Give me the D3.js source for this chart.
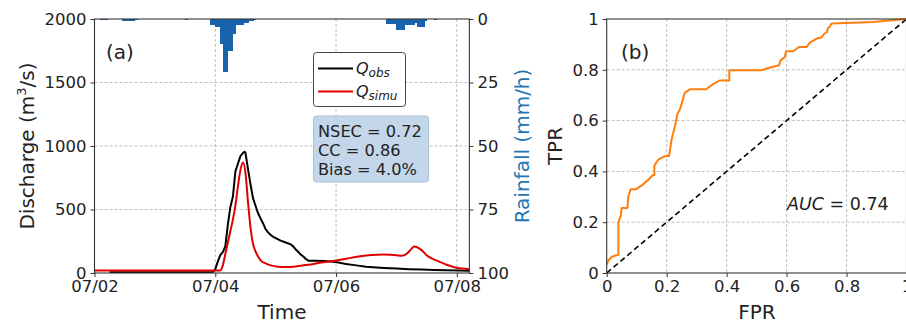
<!DOCTYPE html>
<html><head><meta charset="utf-8">
<script src="https://cdn.jsdelivr.net/npm/d3@7"></script>
<style>body{margin:0;background:#fff} svg{display:block;font-family:"DejaVu Sans",sans-serif}</style>
</head><body><svg id="c" width="906" height="325"></svg>
<script>
// ---------- data ----------
const timeTickHours = [0, 48, 96, 144];
const timeTickLabels = ["07/02", "07/04", "07/06", "07/08"];
const dischargeTicks = [0, 500, 1000, 1500, 2000];
const rainTicks = [0, 25, 50, 75, 100];

const rainHours = [2,3,4, 11,12,13,14,15,16, 36,
  46,47,48,49,50,51,52,53,54,55,56,57,58,59,60,61,62,63,
  116,117,118,119,120,121,122,123,124,125,126,127,128,129,130,131,135];
const rainValues = [0.4,0.4,0.3, 0.6,0.8,0.8,0.8,0.6,0.4, 0.5,
  2.5,2.5,3.2,3.2,10,21,21,12.5,12.5,6,2.5,2.5,2.5,1.5,1.5,0.7,0.7,0.5,
  1.8,2,2,2,4.2,4.2,4.2,2.2,2.2,2.2,2.2,1.5,3.2,3.2,3.2,0.8,0.4];

const obsHours = [6,47,48,49,50,51,52,53,54,55,56,57,58,59,59.6,60,61,62,63,64,65,66,67,68,69,70,71,72,73,74,76,78,79,80,81,82,83,84,85,88,91,94,97,100,104,108,115,120,125,130,135,140,145,149];
const obsValues = [6,6,30,90,140,165,210,380,520,600,800,860,920,945,955,945,820,700,590,530,470,430,390,345,320,300,285,275,265,255,240,225,210,185,165,145,130,110,97,97,95,90,82,70,60,50,40,35,30,27,24,22,20,18];

const simHours = [0,50,51,52,53,54,55,56,57,58,59,60,61,62,63,64,65,66,68,70,73,76,80,85,90,95,100,105,110,115,120,122,124,126,127,128,130,132,134,137,140,143,146,149];
const simValues = [20,20,60,150,240,330,420,530,680,810,870,790,560,360,230,170,130,100,75,60,50,48,52,65,82,95,112,130,142,145,140,135,150,190,208,205,180,140,115,90,65,45,35,30];

const fprValues = [0,0.006,0.017,0.033,0.039,0.039,0.047,0.05,0.069,0.072,0.08,0.098,0.117,0.139,0.153,0.159,0.159,0.172,0.189,0.2,0.208,0.217,0.228,0.236,0.244,0.25,0.258,0.261,0.278,0.331,0.356,0.378,0.409,0.409,0.444,0.516,0.533,0.575,0.58,0.594,0.598,0.622,0.641,0.667,0.678,0.7,0.716,0.724,0.735,0.738,0.744,0.75,0.889,1];
const tprValues = [0.033,0.05,0.064,0.07,0.072,0.198,0.227,0.256,0.256,0.3,0.33,0.33,0.345,0.367,0.385,0.385,0.424,0.446,0.457,0.461,0.461,0.529,0.581,0.627,0.644,0.667,0.7,0.71,0.723,0.723,0.745,0.758,0.758,0.798,0.798,0.798,0.805,0.818,0.837,0.85,0.873,0.873,0.89,0.89,0.907,0.923,0.927,0.94,0.949,0.965,0.969,0.982,0.988,1];
const rocTicks = [0, 0.2, 0.4, 0.6, 0.8, 1];
const rocTickLabels = ["0", "0.2", "0.4", "0.6", "0.8", "1"];
const statLines = ["NSEC = 0.72", "CC = 0.86", "Bias = 4.0%"];
const aucValue = "0.74";

// ---------- setup ----------
const svg = d3.select("#c");
const TICK_FS = 16.5, LABEL_FS = 20;
const gridColor = "#b8b8b8", spineColor = "#333";

// Panel A scales
const xA = d3.scaleLinear().domain([0, 144]).range([94.5, 456.8]);
const xAend = 149;
const yQ = d3.scaleLinear().domain([0, 2000]).range([273, 19]);
const yR = d3.scaleLinear().domain([0, 100]).range([19, 273]);
const ax0 = xA(0), ax1 = xA(xAend);

function styleAxis(g){
  g.select(".domain").remove();
  g.selectAll(".tick line").attr("stroke", spineColor).attr("stroke-width", 1);
  g.selectAll(".tick text").attr("fill", "#222").attr("font-size", TICK_FS)
    .attr("font-family", '"DejaVu Sans",sans-serif');
}

const gA = svg.append("g");
// grid
gA.selectAll(".gy").data(dischargeTicks.slice(1, -1)).join("line")
  .attr("x1", ax0).attr("x2", ax1).attr("y1", d => yQ(d)).attr("y2", d => yQ(d))
  .attr("stroke", gridColor).attr("stroke-width", 0.9).attr("stroke-dasharray", "3,2");
gA.selectAll(".gx").data(timeTickHours.slice(1)).join("line")
  .attr("x1", d => xA(d)).attr("x2", d => xA(d)).attr("y1", 19).attr("y2", 273)
  .attr("stroke", gridColor).attr("stroke-width", 0.9).attr("stroke-dasharray", "3,2");

// rain bars
const rain = rainHours.map((h, i) => ({h, v: rainValues[i]}));
gA.selectAll(".rb").data(rain).join("rect")
  .attr("x", d => xA(d.h)).attr("width", d => xA(d.h + 1) - xA(d.h) + 0.6)
  .attr("y", yR(0)).attr("height", d => yR(d.v) - yR(0))
  .attr("fill", "#1764ad").attr("shape-rendering", "crispEdges");

// lines
svg.append("clipPath").attr("id", "clipA").append("rect")
  .attr("x", ax0).attr("y", 19).attr("width", ax1 - ax0).attr("height", 254);
const obs = obsHours.map((h, i) => [h, obsValues[i]]);
const sim = simHours.map((h, i) => [h, simValues[i]]);
const lineA = d3.line().x(d => xA(d[0])).y(d => yQ(d[1]));
gA.append("path").datum(obs).attr("d", lineA).attr("fill", "none")
  .attr("stroke", "#000").attr("stroke-width", 2).attr("stroke-linejoin", "round")
  .attr("clip-path", "url(#clipA)");
gA.append("path").datum(sim).attr("d", d3.line().curve(d3.curveMonotoneX).x(d => xA(d[0])).y(d => yQ(d[1])))
  .attr("fill", "none").attr("stroke", "#e00000").attr("stroke-width", 2)
  .attr("stroke-linejoin", "round").attr("clip-path", "url(#clipA)");

// frame
gA.append("rect").attr("x", ax0).attr("y", 19).attr("width", ax1 - ax0).attr("height", 254)
  .attr("fill", "none").attr("stroke", spineColor).attr("stroke-width", 1.1);

// axes
gA.append("g").attr("transform", `translate(${ax0},0)`)
  .call(d3.axisLeft(yQ).tickValues(dischargeTicks).tickFormat(d3.format("d")).tickSize(4).tickPadding(4)).call(styleAxis);
gA.append("g").attr("transform", `translate(${ax1},0)`)
  .call(d3.axisRight(yR).tickValues(rainTicks).tickFormat(d3.format("d")).tickSize(4).tickPadding(4)).call(styleAxis);
gA.append("g").attr("transform", `translate(0,273)`)
  .call(d3.axisBottom(xA).tickValues(timeTickHours).tickFormat((d, i) => timeTickLabels[i]).tickSize(4).tickPadding(3))
  .call(styleAxis);

// labels
gA.append("text").attr("x", 282).attr("y", 319).attr("text-anchor", "middle")
  .attr("font-size", LABEL_FS).attr("fill", "#222").text("Time");
gA.append("text").attr("transform", "translate(34,146) rotate(-90)").attr("text-anchor", "middle")
  .attr("font-size", LABEL_FS).attr("fill", "#222")
  .html('Discharge (m<tspan dy="-8" font-size="13">3</tspan><tspan dy="8">/s)</tspan>');
gA.append("text").attr("transform", "translate(529,146) rotate(-90)").attr("text-anchor", "middle")
  .attr("font-size", LABEL_FS).attr("fill", "#1f77b4").text("Rainfall (mm/h)");
gA.append("text").attr("x", 106).attr("y", 59).attr("font-size", LABEL_FS).attr("fill", "#222").text("(a)");

// legend
const lg = gA.append("g");
lg.append("rect").attr("x", 313.5).attr("y", 52.5).attr("width", 92).attr("height", 54).attr("rx", 3)
  .attr("fill", "#fff").attr("stroke", "#444").attr("stroke-width", 1);
[["#000", "obs", 68.5], ["#e00000", "simu", 91.5]].forEach(([c, sub, y]) => {
  lg.append("line").attr("x1", 318).attr("x2", 353).attr("y1", y).attr("y2", y)
    .attr("stroke", c).attr("stroke-width", 2);
  lg.append("text").attr("x", 356).attr("y", y + 5).attr("font-size", 16).attr("fill", "#222")
    .html(`<tspan font-style="italic">Q</tspan><tspan font-style="italic" font-size="12" dy="3.5">${sub}</tspan>`);
});

// stats box
const sb = gA.append("g");
sb.append("rect").attr("x", 313.5).attr("y", 116).attr("width", 115).attr("height", 66).attr("rx", 3)
  .attr("fill", "#c4d7ea").attr("stroke", "#a9c1d9").attr("stroke-width", 1);
sb.selectAll("text").data(statLines).join("text")
  .attr("x", 318).attr("y", (d, i) => 136.5 + i * 19.2).attr("font-size", 16.2).attr("fill", "#222").text(d => d);

// ---------- Panel B ----------
const xB = d3.scaleLinear().domain([0, 1]).range([606.7, 906.5]);
const yB = d3.scaleLinear().domain([0, 1]).range([273, 19]);
const gB = svg.append("g");
gB.selectAll(".gx").data(rocTicks.slice(1, -1)).join("line")
  .attr("x1", d => xB(d)).attr("x2", d => xB(d)).attr("y1", 19).attr("y2", 273)
  .attr("stroke", gridColor).attr("stroke-width", 0.9).attr("stroke-dasharray", "3,2");
gB.selectAll(".gy").data(rocTicks.slice(1, -1)).join("line")
  .attr("x1", xB(0)).attr("x2", xB(1)).attr("y1", d => yB(d)).attr("y2", d => yB(d))
  .attr("stroke", gridColor).attr("stroke-width", 0.9).attr("stroke-dasharray", "3,2");

gB.append("line").attr("x1", xB(0)).attr("y1", yB(0)).attr("x2", xB(1)).attr("y2", yB(1))
  .attr("stroke", "#000").attr("stroke-width", 1.6).attr("stroke-dasharray", "5.5,3.5");
const roc = fprValues.map((f, i) => [f, tprValues[i]]);
gB.append("path").datum(roc).attr("d", d3.line().x(d => xB(d[0])).y(d => yB(d[1])))
  .attr("fill", "none").attr("stroke", "#ff7f0e").attr("stroke-width", 2).attr("stroke-linejoin", "round");

gB.append("rect").attr("x", xB(0)).attr("y", 19).attr("width", xB(1) - xB(0)).attr("height", 254)
  .attr("fill", "none").attr("stroke", spineColor).attr("stroke-width", 1.1);

gB.append("g").attr("transform", `translate(${xB(0)},0)`)
  .call(d3.axisLeft(yB).tickValues(rocTicks).tickFormat((d, i) => rocTickLabels[i]).tickSize(4).tickPadding(4))
  .call(styleAxis);
gB.append("g").attr("transform", `translate(0,273)`)
  .call(d3.axisBottom(xB).tickValues(rocTicks).tickFormat((d, i) => rocTickLabels[i]).tickSize(4).tickPadding(3))
  .call(styleAxis);

gB.append("text").attr("x", 757).attr("y", 319).attr("text-anchor", "middle")
  .attr("font-size", LABEL_FS).attr("fill", "#222").text("FPR");
gB.append("text").attr("transform", "translate(562,146) rotate(-90)").attr("text-anchor", "middle")
  .attr("font-size", LABEL_FS).attr("fill", "#222").text("TPR");
gB.append("text").attr("x", 621).attr("y", 59).attr("font-size", LABEL_FS).attr("fill", "#222").text("(b)");
gB.append("text").attr("x", 787).attr("y", 210).attr("font-size", 17.5).attr("fill", "#222")
  .html(`<tspan font-style="italic">AUC</tspan> = ${aucValue}`);
</script></body></html>
